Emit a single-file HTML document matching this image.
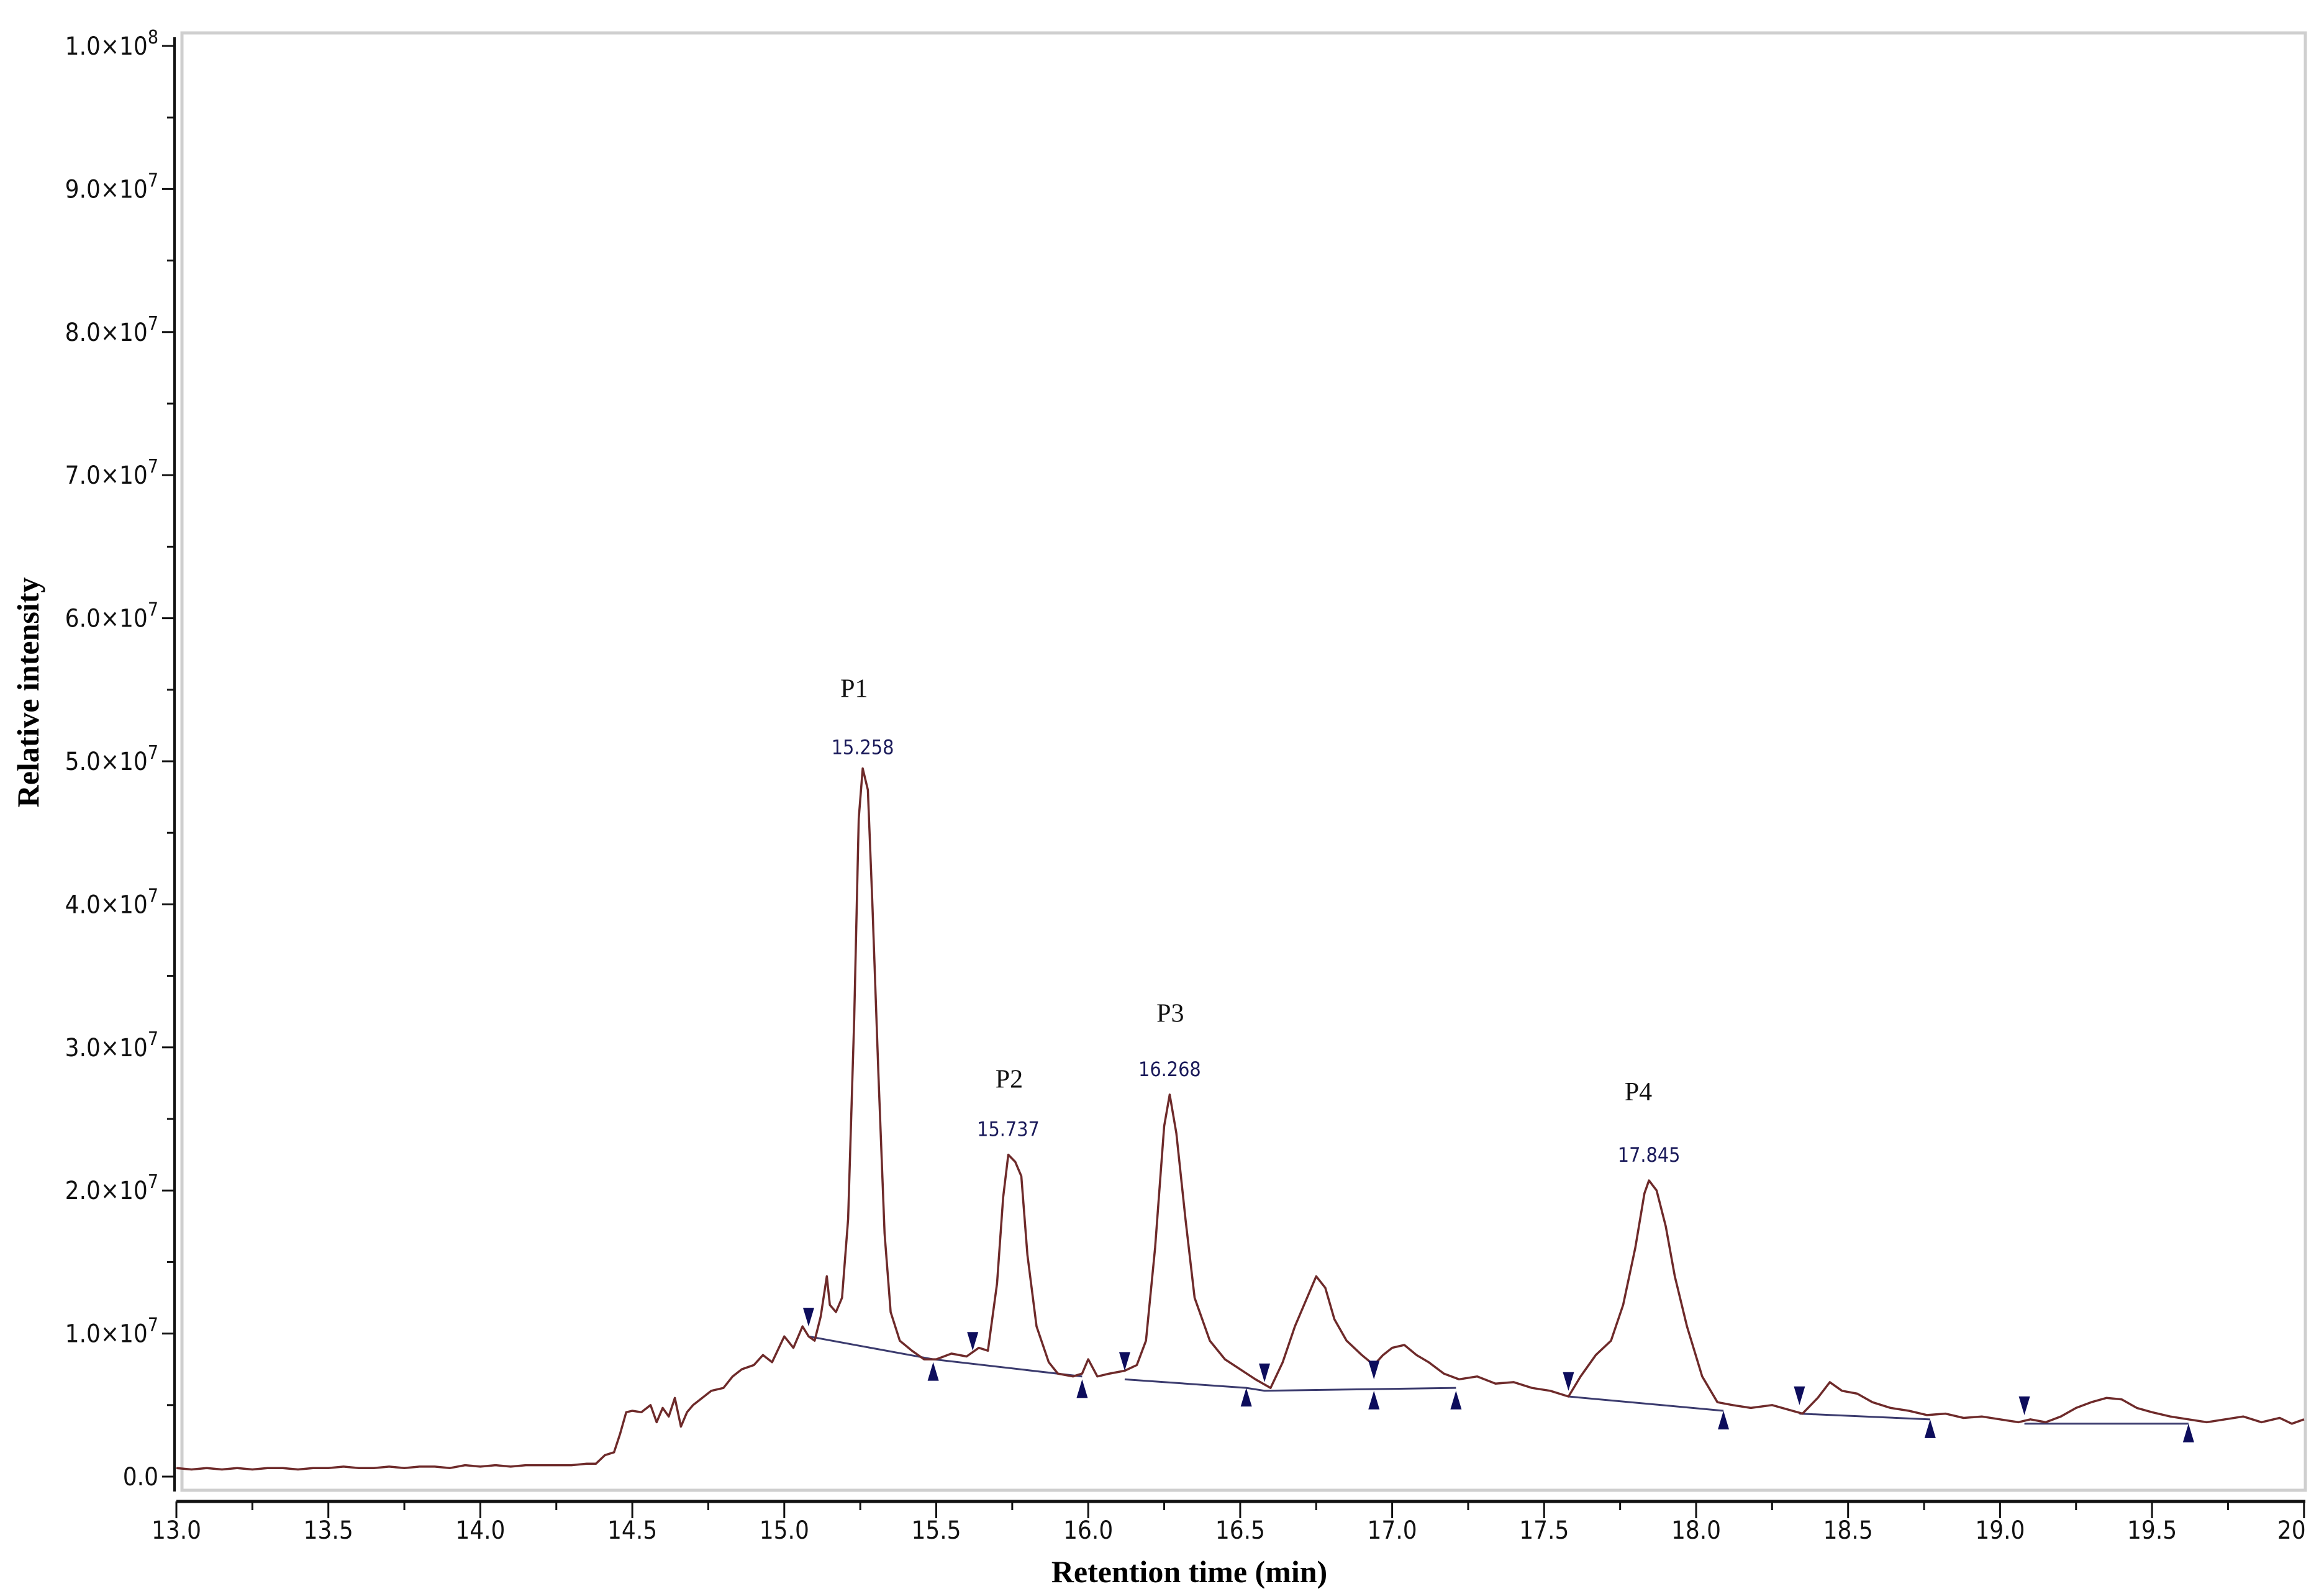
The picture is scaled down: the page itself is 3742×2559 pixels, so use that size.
<!DOCTYPE html>
<html><head><meta charset="utf-8"><style>
html,body{margin:0;padding:0;background:#fff;}
svg{display:block;}
</style></head><body>
<svg id="chart" width="3742" height="2559" viewBox="0 0 3742 2559" xmlns="http://www.w3.org/2000/svg">
<rect width="3742" height="2559" fill="#fff"/>
<rect x="293" y="53" width="3419" height="2347" fill="none" stroke="#cfcfcf" stroke-width="5"/>
<g id="axes"></g>
<g id="series"></g>
<g id="annot"></g>
<text x="1915" y="2548" text-anchor="middle" font-family="Liberation Serif, serif" font-weight="bold" font-size="50">Retention time (min)</text>
<text transform="translate(62,1115) rotate(-90)" text-anchor="middle" font-family="Liberation Serif, serif" font-weight="bold" font-size="50">Relative intensity</text>
</svg>
<script>
// data (intensity in units of 1e7)
const times = [13.0,13.05,13.1,13.15,13.2,13.25,13.3,13.35,13.4,13.45,13.5,13.55,13.6,13.65,13.7,13.75,13.8,13.85,13.9,13.95,14.0,14.05,14.1,14.15,14.2,14.25,14.3,14.35,14.38,14.41,14.44,14.46,14.48,14.5,14.53,14.56,14.58,14.6,14.62,14.64,14.66,14.68,14.7,14.73,14.76,14.8,14.83,14.86,14.9,14.93,14.96,15.0,15.03,15.06,15.08,15.1,15.12,15.14,15.15,15.17,15.19,15.21,15.23,15.245,15.258,15.275,15.29,15.31,15.33,15.35,15.38,15.42,15.46,15.5,15.55,15.6,15.64,15.67,15.7,15.72,15.737,15.76,15.78,15.8,15.83,15.87,15.9,15.95,15.98,16.0,16.03,16.07,16.12,16.16,16.19,16.22,16.25,16.268,16.29,16.32,16.35,16.4,16.45,16.5,16.55,16.6,16.64,16.68,16.72,16.75,16.78,16.81,16.85,16.9,16.94,16.97,17.0,17.04,17.08,17.12,17.17,17.22,17.28,17.34,17.4,17.46,17.52,17.58,17.62,17.67,17.72,17.76,17.8,17.83,17.845,17.87,17.9,17.93,17.97,18.02,18.07,18.12,18.18,18.25,18.3,18.35,18.4,18.44,18.48,18.53,18.58,18.64,18.7,18.76,18.82,18.88,18.94,19.0,19.06,19.1,19.15,19.2,19.25,19.3,19.35,19.4,19.45,19.5,19.56,19.62,19.68,19.74,19.8,19.86,19.92,19.96,20.0];
const intens = [0.06,0.05,0.06,0.05,0.06,0.05,0.06,0.06,0.05,0.06,0.06,0.07,0.06,0.06,0.07,0.06,0.07,0.07,0.06,0.08,0.07,0.08,0.07,0.08,0.08,0.08,0.08,0.09,0.09,0.15,0.17,0.3,0.45,0.46,0.45,0.5,0.38,0.48,0.42,0.55,0.35,0.45,0.5,0.55,0.6,0.62,0.7,0.75,0.78,0.85,0.8,0.98,0.9,1.05,0.98,0.95,1.12,1.4,1.2,1.15,1.25,1.8,3.2,4.6,4.95,4.8,4.0,2.8,1.7,1.15,0.95,0.88,0.82,0.82,0.86,0.84,0.9,0.88,1.35,1.95,2.25,2.2,2.1,1.55,1.05,0.8,0.72,0.7,0.72,0.82,0.7,0.72,0.74,0.78,0.95,1.6,2.45,2.67,2.4,1.8,1.25,0.95,0.82,0.75,0.68,0.62,0.8,1.05,1.25,1.4,1.32,1.1,0.95,0.85,0.78,0.85,0.9,0.92,0.85,0.8,0.72,0.68,0.7,0.65,0.66,0.62,0.6,0.56,0.7,0.85,0.95,1.2,1.6,1.98,2.07,2.0,1.75,1.4,1.05,0.7,0.52,0.5,0.48,0.5,0.47,0.44,0.55,0.66,0.6,0.58,0.52,0.48,0.46,0.43,0.44,0.41,0.42,0.4,0.38,0.4,0.38,0.42,0.48,0.52,0.55,0.54,0.48,0.45,0.42,0.4,0.38,0.4,0.42,0.38,0.41,0.37,0.4,0.38,0.42];
const downMarkers = [[15.08,1.05],[15.62,0.88],[16.12,0.74],[16.58,0.66],[16.94,0.68],[17.58,0.6],[18.34,0.5],[19.08,0.43]];
const upMarkers = [[15.49,0.8],[15.98,0.68],[16.52,0.62],[16.94,0.6],[17.21,0.6],[18.09,0.46],[18.77,0.4],[19.62,0.37]];
const baselineSegs = [[[15.08,0.98],[15.49,0.82],[15.98,0.7]],[[16.12,0.68],[16.52,0.62],[16.58,0.6],[17.21,0.62]],[[17.58,0.56],[18.09,0.46]],[[18.34,0.44],[18.77,0.4]],[[19.08,0.37],[19.62,0.37]]];
const peakNames = ["P1","P2","P3","P4"];
const peakRT = [15.258,15.737,16.268,17.845];
const peakRTLabels = ["15.258","15.737","16.268","17.845"];
const peakNameY = [5.45,2.72,3.18,2.63];
const peakRTY = [5.05,2.38,2.8,2.2];
const peakNameX = [15.23,15.74,16.27,17.81];
const xTicks = ["13.0","13.5","14.0","14.5","15.0","15.5","16.0","16.5","17.0","17.5","18.0","18.5","19.0","19.5","20"];
const yTickMant = ["0.0","1.0","2.0","3.0","4.0","5.0","6.0","7.0","8.0","9.0","1.0"];
const yTickExp = ["","7","7","7","7","7","7","7","7","7","8"];

const NS="http://www.w3.org/2000/svg";
const X0=284, PXMIN=489.4, Y0=2378, PXUNIT=230.4;
function xs(t){return X0+(t-13)*PXMIN;}
function ys(v){return Y0-v*PXUNIT;}
function mk(tag,attrs,parent){const e=document.createElementNS(NS,tag);for(const k in attrs)e.setAttribute(k,attrs[k]);parent.appendChild(e);return e;}
const axes=document.getElementById('axes'), ser=document.getElementById('series'), ann=document.getElementById('annot');

let yl=mk('line',{x1:281,y1:60,x2:281,y2:2402,stroke:'#111','stroke-width':4},axes);


for(let i=0;i<=20;i++){
  const v=i*0.5, y=ys(v), major=i%2===0;
  const tk=mk('line',{x1:major?261:269,y1:y,x2:281,y2:y,stroke:'#111','stroke-width':3},axes);
  
  
  if(major){
    const k=i/2;
    const tx=mk('text',{x:255,y:y+14,'text-anchor':'end','font-family':'DejaVu Sans Condensed, DejaVu Sans, sans-serif','font-size':40,fill:'#111'},axes);
    
    
    if(yTickExp[k]){
      tx.textContent=yTickMant[k]+'\u00d710';
      const s=document.createElementNS(NS,'tspan');s.setAttribute('dy','-18');s.setAttribute('font-size','30');s.textContent=yTickExp[k];tx.appendChild(s);
    } else tx.textContent=yTickMant[k];
  }
}
let xl=mk('line',{x1:284,y1:2418,x2:3712,y2:2418,stroke:'#111','stroke-width':5},axes);


for(let i=0;i<=28;i++){
  const t=13+i*0.25, x=xs(t), major=i%2===0;
  const tk=mk('line',{x1:x,y1:2418,x2:x,y2:major?2445:2432,stroke:'#111','stroke-width':3},axes);
  
  
  if(major){
    const tx=mk('text',{x:i===28?x-20:x,y:2478,'text-anchor':'middle','font-family':'DejaVu Sans Condensed, DejaVu Sans, sans-serif','font-size':40,fill:'#111'},axes);
    
    
    tx.textContent=xTicks[i/2];
  }
}
baselineSegs.forEach(seg=>{
  const p=mk('polyline',{points:seg.map(q=>xs(q[0])+','+ys(q[1])).join(' '),fill:'none',stroke:'#3b3b6e','stroke-width':3},ser);
  
  
});
const tr=mk('polyline',{points:times.map((t,i)=>xs(t).toFixed(1)+','+ys(intens[i]).toFixed(1)).join(' '),fill:'none',stroke:'#6e2a2a','stroke-width':3.5,'stroke-linejoin':'round'},ser);


downMarkers.forEach(m=>{
  const x=xs(m[0]), y=ys(m[1]);
  const p=mk('polygon',{points:`${x-9},${y-30} ${x+9},${y-30} ${x},${y}`,fill:'#0d0d5c'},ser);
  
  
});
upMarkers.forEach(m=>{
  const x=xs(m[0]), y=ys(m[1]);
  const p=mk('polygon',{points:`${x},${y} ${x-9},${y+30} ${x+9},${y+30}`,fill:'#0d0d5c'},ser);
  
  
});
peakNames.forEach((n,i)=>{
  const a=mk('text',{x:xs(peakNameX[i]),y:ys(peakNameY[i]),'text-anchor':'middle','font-family':'Liberation Serif, serif','font-size':42,fill:'#111'},ann);
  
  
  a.textContent=n;
  const b=mk('text',{x:xs(peakRT[i]),y:ys(peakRTY[i]),'text-anchor':'middle','font-family':'DejaVu Sans Condensed, DejaVu Sans, sans-serif','font-size':32,fill:'#1a1a5a'},ann);
  
  
  b.textContent=peakRTLabels[i];
});
</script>
</body></html>
